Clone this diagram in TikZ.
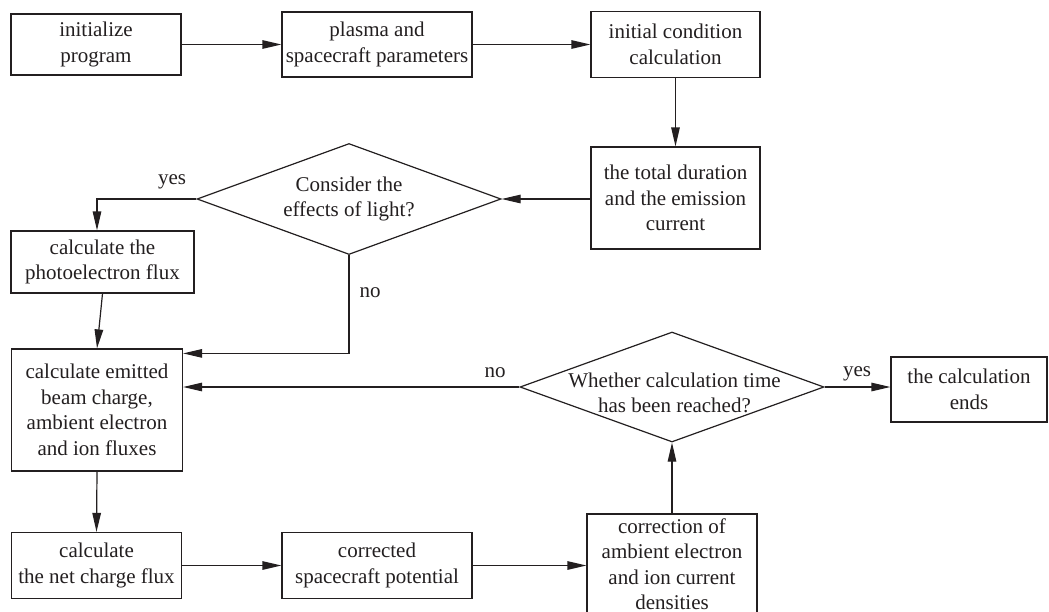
\documentclass[tikz,border=0pt]{standalone}
\usepackage{fontspec}
\setmainfont{Liberation Serif}
\usetikzlibrary{arrows.meta,shapes.geometric,calc}
\definecolor{ink}{RGB}{35,31,32}
\begin{document}
\begin{tikzpicture}[x=1pt,y=-1pt,
  every node/.style={font=\fontsize{21}{25.5}\selectfont, text=ink},
  box/.style={draw=ink, line width=1.2pt, rectangle, inner sep=0pt, align=center},
  dia/.style={draw=ink, line width=1.2pt, diamond, inner sep=0pt, minimum width=304pt, minimum height=111pt},
  txt/.style={inner sep=0pt, align=center},
  arr/.style={draw=ink, line width=1.2pt, -{Triangle[length=19pt,width=8.5pt]}},
  lbl/.style={inner sep=0pt}]
\useasboundingbox (0,0) rectangle (1049,611);
\fill[white] (0,0) rectangle (1049,611);
% boxes
\node[box, minimum width=170pt, minimum height=61pt] (b1) at (96,44.5) {initialize\\program};
\node[box, minimum width=190pt, minimum height=65pt] (b2) at (377,44.5) {plasma and\\spacecraft parameters};
\node[box, minimum width=169pt, minimum height=66pt] (b3) at (675.5,44.5) {initial condition\\calculation};
\node[box, minimum width=169pt, minimum height=102pt] (b4) at (675.5,198) {the total duration\\and the emission\\current};
\node[box, minimum width=183pt, minimum height=62pt] (b5) at (102.5,262) {calculate the\\photoelectron flux};
\node[box, minimum width=171pt, minimum height=122pt] (b6) at (97,410) {calculate emitted\\beam charge,\\ambient electron\\and ion fluxes};
\node[box, minimum width=170pt, minimum height=66pt] (b7) at (96.5,565.5) {calculate\\the net charge flux};
\node[box, minimum width=190pt, minimum height=66pt] (b8) at (377,565.5) {corrected\\spacecraft potential};
\node[box, minimum width=170pt, minimum height=100pt] (b9) at (672,564) {correction of\\ambient electron\\and ion current\\densities};
\node[box, minimum width=156pt, minimum height=65pt] (b10) at (969,389.5) {the calculation\\ends};
% decisions
\node[dia] (d1) at (349,199) {};
\node[txt] (d1t) at (349,199) {Consider the\\effects of light?};
\node[dia, minimum height=110pt] (d2) at (672,387) {};
\node[txt] (d2t) at (674.5,393) {Whether calculation time\\has been reached?};
% labels
\node[lbl] (y1) at (172,182) {yes};
\node[lbl] (n1) at (370,293) {no};
\node[lbl] (n2) at (495,373) {no};
\node[lbl] (y2) at (857,374) {yes};
% connectors
\draw[arr] (b1.east) -- (b2.west);
\draw[arr] (b2.east) -- (b3.west);
\draw[arr] (b3.south) -- (b4.north);
\draw[arr] (b4.west |- d1.east) -- (d1.east);
\draw[arr] (d1.west) -| ([xshift=-5.5pt]b5.north);
\draw[arr] (b5.south) -- (b6.north);
\draw[arr] (d1.south) |- ($(b6.north east)+(0,5)$);
\draw[arr] (d2.west) -- (b6.east |- d2.west);
\draw[arr] (b6.south) -- (b7.north);
\draw[arr] (b7.east) -- (b8.west);
\draw[arr] (b8.east) -- (b9.west |- b8.east);
\draw[arr] (b9.north) -- (d2.south);
\draw[arr] (d2.east) -- (b10.west |- d2.east);
\end{tikzpicture}
\end{document}
